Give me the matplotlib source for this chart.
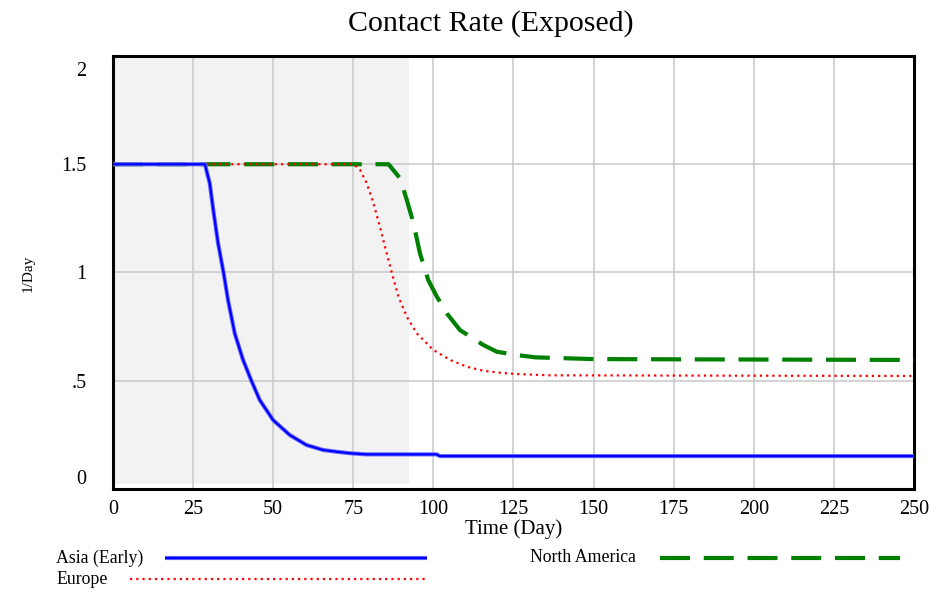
import matplotlib
matplotlib.use("Agg")
import matplotlib.pyplot as plt
import matplotlib.transforms as mtransforms
from matplotlib.lines import Line2D

plt.rcParams['font.family'] = ['Liberation Serif', 'DejaVu Serif']

# data
asia_t = [0, 28.7, 30.2, 31.3, 32.8, 34.5, 35.9, 38.0, 40.6, 43.2, 45.8, 50, 55.2, 60.4,
          65.6, 69.8, 74, 79, 101, 102, 250]
asia_y = [1.50, 1.50, 1.412, 1.289, 1.135, 1.0, 0.873, 0.719, 0.596, 0.50, 0.411, 0.318,
          0.249, 0.203, 0.18, 0.172, 0.165, 0.16, 0.16, 0.152, 0.152]

europe_t = [0, 75.1, 77.1, 79.2, 81.3, 83.3, 84.9, 87.0, 89.1, 91.7, 94.8, 100, 105.2,
            110.4, 115.6, 120.8, 126, 136.5, 250]
europe_y = [1.50, 1.50, 1.474, 1.412, 1.32, 1.212, 1.119, 1.0, 0.888, 0.796, 0.719, 0.642,
            0.596, 0.565, 0.546, 0.537, 0.531, 0.525, 0.522]

na_t = [0, 86.0, 89.6, 91.7, 93.8, 95.8, 98.4, 101.1, 104.2, 108.3, 115.6, 119.8, 126,
        131.8, 150, 250]
na_y = [1.50, 1.50, 1.435, 1.335, 1.227, 1.089, 0.965, 0.888, 0.811, 0.734, 0.665, 0.634,
        0.619, 0.608, 0.60, 0.596]

x_ticks = [0, 25, 50, 75, 100, 125, 150, 175, 200, 225, 250]
y_ticks = [0, 0.5, 1, 1.5, 2]
y_tick_labels = ['0', '.5', '1', '1.5', '2']
shade_end = 92.5

fig = plt.figure(figsize=(9.36, 5.90), dpi=100)
ax = fig.add_axes([0.1207, 0.1712, 0.8558, 0.7339])

ax.axvspan(0, shade_end, ymin=0.012, ymax=1, color='#f2f2f2', zorder=0, lw=0)

# series (green under red, blue on top)
ax.plot(na_t, na_y, color='green', lw=3.0, dashes=(7.2, 3.3), zorder=3)
ax.plot(europe_t, europe_y, color='red', lw=1.6, dashes=(1, 1.8), zorder=4)
ax.plot(asia_t, asia_y, color='#6a6aff', lw=3.0, zorder=5, solid_capstyle='butt')
ax.plot(asia_t, asia_y, color='blue', lw=1.6, zorder=6, solid_capstyle='butt')

ax.set_xlim(0, 250)
ax.set_ylim(0, 2)
ax.set_xticks(x_ticks)
ax.set_yticks(y_ticks, y_tick_labels)
ax.grid(True, color='#c8c8c8', lw=1.1)
ax.set_axisbelow(True)
ax.tick_params(axis='both', length=0, labelsize=14.5)
ax.tick_params(axis='x', pad=8)
ax.tick_params(axis='y', pad=19)
for s in ax.spines.values():
    s.set_linewidth(2.2)
    s.set_color('black')

# vensim style: end labels pushed inside the axis range
lbls = ax.yaxis.get_majorticklabels()
lbls[0].set_va('bottom')
lbls[-1].set_va('top')
lbls[-1].set_transform(lbls[-1].get_transform() +
                       mtransforms.ScaledTranslation(0, -4 / 72, fig.dpi_scale_trans))

ax.set_xlabel('Time (Day)', fontsize=15, labelpad=0)
fig.text(0.030, 0.537, '1/Day', rotation=90, ha='center', va='center', fontsize=11)
fig.text(0.524, 0.960, 'Contact Rate (Exposed)', ha='center', va='center', fontsize=21.5)

# legend at the bottom
fig.text(56 / 936, 1 - 558 / 590, 'Asia (Early)', ha='left', va='center', fontsize=12.8)
fig.text(56 / 936, 1 - 579 / 590, 'Europe', ha='left', va='center', fontsize=12.8)
fig.text(530 / 936, 1 - 558 / 590, 'North America', ha='left', va='center', fontsize=12.8)

y1 = 1 - 558 / 590
y2 = 1 - 579 / 590
fig.add_artist(Line2D([165 / 936, 427 / 936], [y1, y1], transform=fig.transFigure,
                      color='#6a6aff', lw=3.0, solid_capstyle='butt'))
fig.add_artist(Line2D([165 / 936, 427 / 936], [y1, y1], transform=fig.transFigure,
                      color='blue', lw=1.6, solid_capstyle='butt'))
fig.add_artist(Line2D([130 / 936, 425 / 936], [y2, y2], transform=fig.transFigure,
                      color='red', lw=1.6, dashes=(1, 1.8)))
fig.add_artist(Line2D([660 / 936, 900 / 936], [y1, y1], transform=fig.transFigure,
                      color='green', lw=3.0, dashes=(7.2, 3.3)))

fig.savefig('out.png', dpi=100)
